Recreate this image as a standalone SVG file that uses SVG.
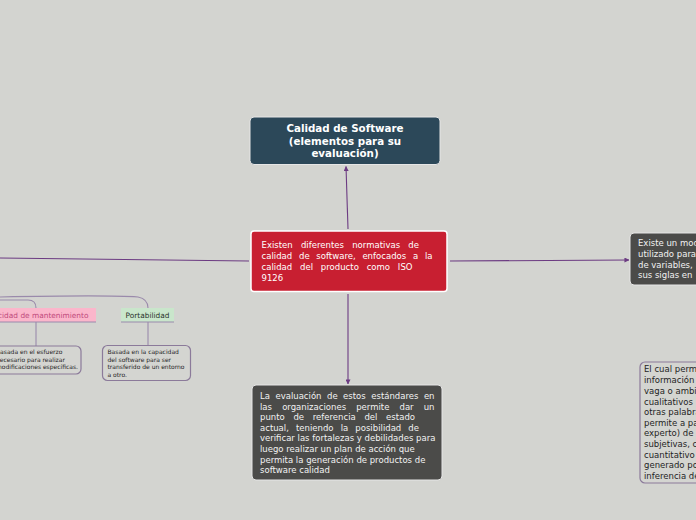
<svg xmlns="http://www.w3.org/2000/svg" width="696" height="520" viewBox="0 0 696 520">
<style>
text{font-family:"DejaVu Sans","Verdana",sans-serif}
.w{fill:#ffffff;font-size:8.5px}
.d{fill:#f2f2f2;font-size:8.5px}
.k{fill:#1f1f1f;font-size:8.5px}
.s{fill:#1f1f1f;font-size:6px}
.main{fill:none;stroke:#6c3b82;stroke-width:1.1}
.sub{fill:none;stroke:#9a8aab;stroke-width:1.1}
.dark{fill:#4b4b49;stroke:#e6e6e6;stroke-width:1}
.light{fill:#d4d5d1;stroke:#8b7a9a;stroke-width:1.2}
</style>
<defs>
<marker id="ah" viewBox="0 0 6 6" refX="5.5" refY="3" markerWidth="5" markerHeight="5" orient="auto" markerUnits="userSpaceOnUse">
<path d="M0,0 L6,3 L0,6 z" fill="#6c3b82"/>
</marker>
</defs>
<rect width="696" height="520" fill="#d3d4d0"/>
<g id="connectors">
<path class="main" d="M348,229 L346,166.5" marker-end="url(#ah)"/>
<path class="main" d="M348,294 L348,384" marker-end="url(#ah)"/>
<path class="main" d="M450,261 L629,260" marker-end="url(#ah)"/>
<path class="main" d="M249,261 L0,258"/>
<path class="sub" d="M0,300 L28,300 Q36,300 36,308"/>
<path class="sub" d="M0,297 C50,296 110,295 138,297 Q148,299 148,308"/>
<path class="sub" d="M36,322 L36,346"/>
<path class="sub" d="M148,322 L148,346"/>
</g>
<g id="node-title">
<rect x="250" y="117" width="190" height="47.5" rx="4" fill="#2c4859" stroke="#e6e6e6" stroke-width="1"/>
<text x="345" y="131.5" text-anchor="middle" fill="#ffffff" font-size="10.3" font-weight="bold">Calidad de Software</text>
<text x="345" y="144.5" text-anchor="middle" fill="#ffffff" font-size="10.3" font-weight="bold">(elementos para su</text>
<text x="345" y="157" text-anchor="middle" fill="#ffffff" font-size="10.3" font-weight="bold">evaluación)</text>
</g>
<g id="node-center">
<rect x="251" y="231" width="196" height="60.5" rx="3" fill="#c81f31" stroke="#ffffff" stroke-width="1.5"/>
<text class="w" x="261.5" y="248" word-spacing="5.5" textLength="157.5" lengthAdjust="spacing">Existen diferentes normativas de</text>
<text class="w" x="261.5" y="259" word-spacing="4" textLength="171" lengthAdjust="spacing">calidad de software, enfocados a la</text>
<text class="w" x="261.5" y="270" word-spacing="5.1" textLength="151" lengthAdjust="spacing">calidad del producto como ISO</text>
<text class="w" x="261.5" y="281">9126</text>
</g>
<g id="node-right">
<rect x="630" y="233" width="80" height="52" rx="4" class="dark"/>
<text class="d" x="638" y="246">Existe un mod</text>
<text class="d" x="638" y="257">utilizado para</text>
<text class="d" x="638" y="267.5">de variables,</text>
<text class="d" x="638" y="278">sus siglas en</text>
</g>
<g id="node-bottom">
<rect x="252" y="385" width="190" height="95" rx="4" class="dark"/>
<text class="d" x="260" y="399" word-spacing="2.8" textLength="174.5" lengthAdjust="spacing">La evaluación de estos estándares en</text>
<text class="d" x="260" y="409.6" word-spacing="7.4" textLength="174.5" lengthAdjust="spacing">las organizaciones permite dar un</text>
<text class="d" x="260" y="420.2" word-spacing="5.9" textLength="155" lengthAdjust="spacing">punto de referencia del estado</text>
<text class="d" x="260" y="430.8" word-spacing="4.4" textLength="159" lengthAdjust="spacing">actual, teniendo la posibilidad de</text>
<text class="d" x="260" y="441.4">verificar las fortalezas y debilidades para</text>
<text class="d" x="260" y="452">luego realizar un plan de acción que</text>
<text class="d" x="260" y="462.6">permita la generación de productos de</text>
<text class="d" x="260" y="473.2">software calidad</text>
</g>
<g id="node-bottom-right">
<rect x="640" y="362" width="70" height="121" rx="5" class="light"/>
<text class="k" x="644" y="372">El cual perm</text>
<text class="k" x="644" y="383">información</text>
<text class="k" x="644" y="393.5">vaga o ambi</text>
<text class="k" x="644" y="404.5">cualitativos</text>
<text class="k" x="644" y="415">otras palabra</text>
<text class="k" x="644" y="425.5">permite a pa</text>
<text class="k" x="644" y="436">experto) de</text>
<text class="k" x="644" y="446.5">subjetivas, c</text>
<text class="k" x="644" y="457.5">cuantitativo</text>
<text class="k" x="644" y="468">generado po</text>
<text class="k" x="644" y="478.5">inferencia de</text>
</g>
<g id="node-mantenimiento">
<rect x="-10" y="308" width="106" height="14" fill="#fbb6cb"/>
<path class="sub" d="M-10,322 L96,322"/>
<text x="-2" y="318" fill="#c04a7c" font-size="7.4">cidad de mantenimiento</text>
</g>
<g id="node-portabilidad">
<rect x="121" y="308" width="53" height="14" fill="#c9e6cb"/>
<path class="sub" d="M121,322 L174,322"/>
<text x="147.5" y="318" text-anchor="middle" fill="#2b332b" font-size="7.4">Portabilidad</text>
</g>
<g id="node-mant-desc">
<rect x="-10" y="346" width="91" height="28" rx="5" class="light"/>
<text class="s" x="-4" y="354.2">Basada en el esfuerzo</text>
<text class="s" x="-4" y="361.6">necesario para realizar</text>
<text class="s" x="-4" y="369.2">modificaciones específicas.</text>
</g>
<g id="node-port-desc">
<rect x="102.5" y="345.5" width="88" height="35" rx="5" class="light"/>
<text class="s" x="107.5" y="354.2">Basada en la capacidad</text>
<text class="s" x="107.5" y="361.6">del software para ser</text>
<text class="s" x="107.5" y="369.2">transferido de un entorno</text>
<text class="s" x="107.5" y="376.8">a otro.</text>
</g>
</svg>
